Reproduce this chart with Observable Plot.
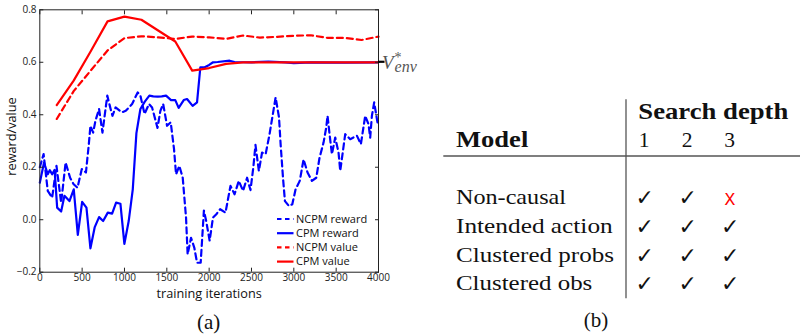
<!DOCTYPE html>
<html><head><meta charset="utf-8">
<script src="https://cdn.jsdelivr.net/npm/d3@7"></script>
<script src="https://cdn.jsdelivr.net/npm/@observablehq/plot@0.6"></script>
<style>
body{margin:0;background:#fff;}
#wrap{position:relative;width:800px;height:334px;overflow:hidden;background:#fff;}
#chart{position:absolute;left:0;top:0;}
#over{position:absolute;left:0;top:0;}
.serif{font-family:"Liberation Serif","Times New Roman",serif;}
.mono{font-family:"Liberation Mono","DejaVu Sans Mono",monospace;}
.sym{font-family:"DejaVu Sans",sans-serif;}
.sans{font-family:"Open Sans",sans-serif;}
</style></head><body>
<div id="wrap"><div id="chart"></div><svg id="over" width="800" height="334"></svg></div>
<script>
// ---------- data (panel a) ----------
const xTicks = [0, 500, 1000, 1500, 2000, 2500, 3000, 3500, 4000];
const yTicks = [-0.2, 0.0, 0.2, 0.4, 0.6, 0.8];

const ncpmRewardX = [0,45,94,146,197,252,305,358,400,445,496,545,578,598,630,657,700,740,797,830,858,895,968,1015,1090,1156,1188,1237,1290,1326,1390,1424,1457,1503,1546,1585,1609,1648,1688,1727,1746,1786,1825,1857,1900,1938,1965,2006,2045,2085,2130,2193,2252,2300,2350,2400,2448,2488,2522,2547,2587,2625,2667,2710,2746,2785,2825,2844,2872,2895,2943,2982,3021,3070,3115,3162,3214,3265,3304,3351,3383,3398,3422,3450,3489,3528,3548,3607,3666,3745,3792,3843,3882,3902,3922,3949,3988];
const ncpmRewardY = [0.20,0.25,0.11,0.084,0.205,0.065,0.218,0.16,0.135,0.122,0.193,0.18,0.285,0.358,0.332,0.377,0.422,0.332,0.473,0.43,0.396,0.428,0.409,0.415,0.441,0.485,0.473,0.403,0.441,0.428,0.35,0.415,0.441,0.358,0.371,0.27,0.173,0.205,0.16,0.008,-0.132,-0.069,-0.107,-0.164,-0.164,0.035,-0.005,-0.08,0.008,0.021,0.04,0.027,0.129,0.097,0.148,0.11,0.16,0.113,0.2,0.285,0.186,0.256,0.25,0.32,0.39,0.466,0.39,0.288,0.16,0.071,0.052,0.059,0.116,0.148,0.23,0.18,0.148,0.16,0.237,0.294,0.352,0.396,0.326,0.25,0.313,0.256,0.186,0.326,0.307,0.32,0.288,0.396,0.364,0.313,0.396,0.447,0.371];

const cpmRewardX = [0,50,94,118,146,175,205,252,291,350,401,449,500,551,598,649,700,748,803,854,901,952,999,1050,1098,1141,1188,1240,1294,1340,1393,1440,1491,1550,1600,1640,1700,1739,1805,1857,1896,1947,2000,2046,2100,2242,2300,2500,2700,2900,3000,3200,3600,4000];
const cpmRewardY = [0.141,0.218,0.173,0.189,0.173,0.19,0.046,0.031,0.091,0.071,0.116,-0.058,0.068,0.046,-0.109,-0.028,0.010,-0.005,0.027,0.023,0.065,0.061,-0.092,-0.005,0.116,0.33,0.422,0.45,0.473,0.47,0.469,0.47,0.473,0.456,0.456,0.426,0.456,0.46,0.434,0.447,0.581,0.581,0.59,0.6,0.601,0.606,0.601,0.6,0.603,0.6,0.597,0.6,0.599,0.6];

const ncpmValueX = [200,400,600,800,1000,1200,1400,1600,1800,2000,2200,2400,2600,2800,3000,3200,3400,3600,3800,4000];
const ncpmValueY = [0.384,0.49,0.568,0.645,0.692,0.699,0.695,0.689,0.698,0.695,0.689,0.702,0.694,0.697,0.701,0.703,0.693,0.693,0.685,0.698];

const cpmValueX = [200,400,600,800,1000,1200,1600,1800,2000,2200,2400,2800,3200,3600,4000];
const cpmValueY = [0.437,0.53,0.641,0.756,0.774,0.762,0.679,0.568,0.578,0.594,0.6,0.6,0.6,0.6,0.6];

const vStar = 0.6;
const seriesNames = ["NCPM reward", "CPM reward", "NCPM value", "CPM value"];
const seriesColors = ["#0000ff", "#0000ff", "#ff0000", "#ff0000"];
const seriesDash = ["6,4", null, "6,4", null];
const xLabel = "training iterations";
const yLabel = "reward/value";

// ---------- data (panel b) ----------
const tableModels = ["Non-causal", "Intended action", "Clustered probs", "Clustered obs"];
const tableDepths = ["1", "2", "3"];
const tableOk = [[true, true, false], [true, true, true], [true, true, true], [true, true, true]];

const zipRows = (xs, ys) => xs.map((x, i) => ({x, y: ys[i]}));
const series = [
  zipRows(ncpmRewardX, ncpmRewardY),
  zipRows(cpmRewardX, cpmRewardY),
  zipRows(ncpmValueX, ncpmValueY),
  zipRows(cpmValueX, cpmValueY)
];

const chart = Plot.plot({
  width: 400, height: 334,
  marginLeft: 39.3, marginRight: 22, marginTop: 9.3, marginBottom: 62.3,
  style: {fontFamily: "'Open Sans', sans-serif", fontSize: "10px", color: "#222", background: "transparent", overflow: "visible"},
  x: {domain: [0, 4000], label: null},
  y: {domain: [-0.2, 0.8], label: null},
  marks: [
    ...series.map((d, i) => Plot.line(d, {x: "x", y: "y", stroke: seriesColors[i], strokeWidth: 2.2, strokeDasharray: seriesDash[i] ?? undefined})),
    Plot.frame({stroke: "#222", strokeWidth: 1}),
    Plot.axisX({anchor: "bottom", ticks: xTicks, tickSize: -4, tickPadding: 6, tickFormat: d3.format("d"), label: null}),
    Plot.axisX({anchor: "top", ticks: xTicks, tickSize: -4, tickFormat: () => "", label: null}),
    Plot.axisY({anchor: "left", ticks: yTicks, tickSize: -4, tickPadding: 7.3, tickFormat: d3.format(".1f"), label: null}),
    Plot.axisY({anchor: "right", ticks: yTicks, tickSize: -4, tickFormat: () => "", label: null}),
    Plot.text([xLabel], {frameAnchor: "bottom", dy: 22, textAnchor: "middle", lineAnchor: "middle", text: d => d, fontSize: 12.7, fill: "#111"})
  ]
});
document.getElementById("chart").appendChild(chart);

const sx = chart.scale("x"), sy = chart.scale("y");
const over = d3.select("#over");

// y-axis label, near the middle of the y scale's range
const yMid = (sy.range[0] + sy.range[1]) / 2 - 4;
over.append("text").attr("class", "sans").attr("transform", `translate(10.5,${yMid}) rotate(-90)`)
  .attr("text-anchor", "middle").attr("dominant-baseline", "central")
  .attr("font-size", 12.7).attr("fill", "#111").text(yLabel);

// V*_env annotation
const yv = sy.apply(vStar), xr = sx.apply(4000);
over.append("line").attr("x1", xr).attr("x2", xr + 6.5).attr("y1", yv).attr("y2", yv)
  .attr("stroke", "#000").attr("stroke-width", 2.2);
const vt = over.append("text").attr("class", "serif").attr("x", xr + 4).attr("y", yv + 6.8).attr("fill", "#555");
vt.append("tspan").attr("font-style", "italic").attr("font-size", 19).text("V");
vt.append("tspan").attr("font-size", 14).attr("dx", 1).attr("dy", -6.3).text("*");
vt.append("tspan").attr("font-style", "italic").attr("font-size", 16).attr("dx", -7).attr("dy", 10).text("env");

// legend
const lg = over.append("g").attr("transform", "translate(277,219)");
seriesNames.forEach((name, i) => {
  const g = lg.append("g").attr("transform", `translate(0,${i * 14.2})`);
  g.append("line").attr("x1", 0).attr("x2", 16.5).attr("y1", 0).attr("y2", 0)
    .attr("stroke", seriesColors[i]).attr("stroke-width", 2.2)
    .attr("stroke-dasharray", seriesDash[i] ? "4.5,3.5" : null);
  g.append("text").attr("class", "sans").attr("x", 19).attr("y", 0).attr("dy", "0.35em")
    .attr("font-size", 11).attr("fill", "#111").text(name);
});

// (a) caption
over.append("text").attr("class", "serif").attr("x", (sx.range[0] + sx.range[1]) / 2).attr("y", 328.7).attr("text-anchor", "middle")
  .attr("font-size", 21).attr("fill", "#111").text("(a)");

// ---------- table (b) ----------
const tb = over.append("g");
tb.append("line").attr("x1", 626).attr("x2", 626).attr("y1", 99.3).attr("y2", 298.3).attr("stroke", "#555").attr("stroke-width", 1.3);
tb.append("line").attr("x1", 443.3).attr("x2", 800).attr("y1", 156).attr("y2", 156).attr("stroke", "#555").attr("stroke-width", 1.3);

tb.append("text").attr("class", "serif").attr("x", 638.3).attr("y", 119.3).attr("font-weight", "bold")
  .attr("font-size", 22.5).attr("textLength", 150).attr("lengthAdjust", "spacingAndGlyphs").attr("fill", "#111").text("Search depth");
tb.append("text").attr("class", "serif").attr("x", 456).attr("y", 146.7).attr("font-weight", "bold")
  .attr("font-size", 22.5).attr("textLength", 72.3).attr("lengthAdjust", "spacingAndGlyphs").attr("fill", "#111").text("Model");
const colX = [644, 687, 729.5];
tableDepths.forEach((d, j) => {
  tb.append("text").attr("class", "serif").attr("x", colX[j]).attr("y", 146.7).attr("text-anchor", "middle")
    .attr("font-size", 21.5).attr("fill", "#111").text(d);
});
const rowY = [204.3, 233.2, 261.7, 289.5];
const rowW = [110, 156.7, 158, 136.3];
tableModels.forEach((m, i) => {
  tb.append("text").attr("class", "serif").attr("x", 456).attr("y", rowY[i]).attr("font-size", 21.5)
    .attr("textLength", rowW[i]).attr("lengthAdjust", "spacingAndGlyphs").attr("fill", "#111").text(m);
  tableOk[i].forEach((ok, j) => {
    if (ok) {
      tb.append("text").attr("class", "sym").attr("x", colX[j] + 0.7).attr("y", rowY[i] + 1).attr("text-anchor", "middle")
        .attr("font-size", 22).attr("fill", "#111").text("\u2713");
    } else {
      tb.append("text").attr("class", "mono").attr("x", colX[j] + 0.5).attr("y", rowY[i] + 0.5).attr("text-anchor", "middle")
        .attr("font-size", 18).attr("fill", "#ff0000").text("X");
    }
  });
});
tb.append("text").attr("class", "serif").attr("x", 596).attr("y", 327).attr("text-anchor", "middle")
  .attr("font-size", 21).attr("fill", "#111").text("(b)");
</script>
</body></html>
